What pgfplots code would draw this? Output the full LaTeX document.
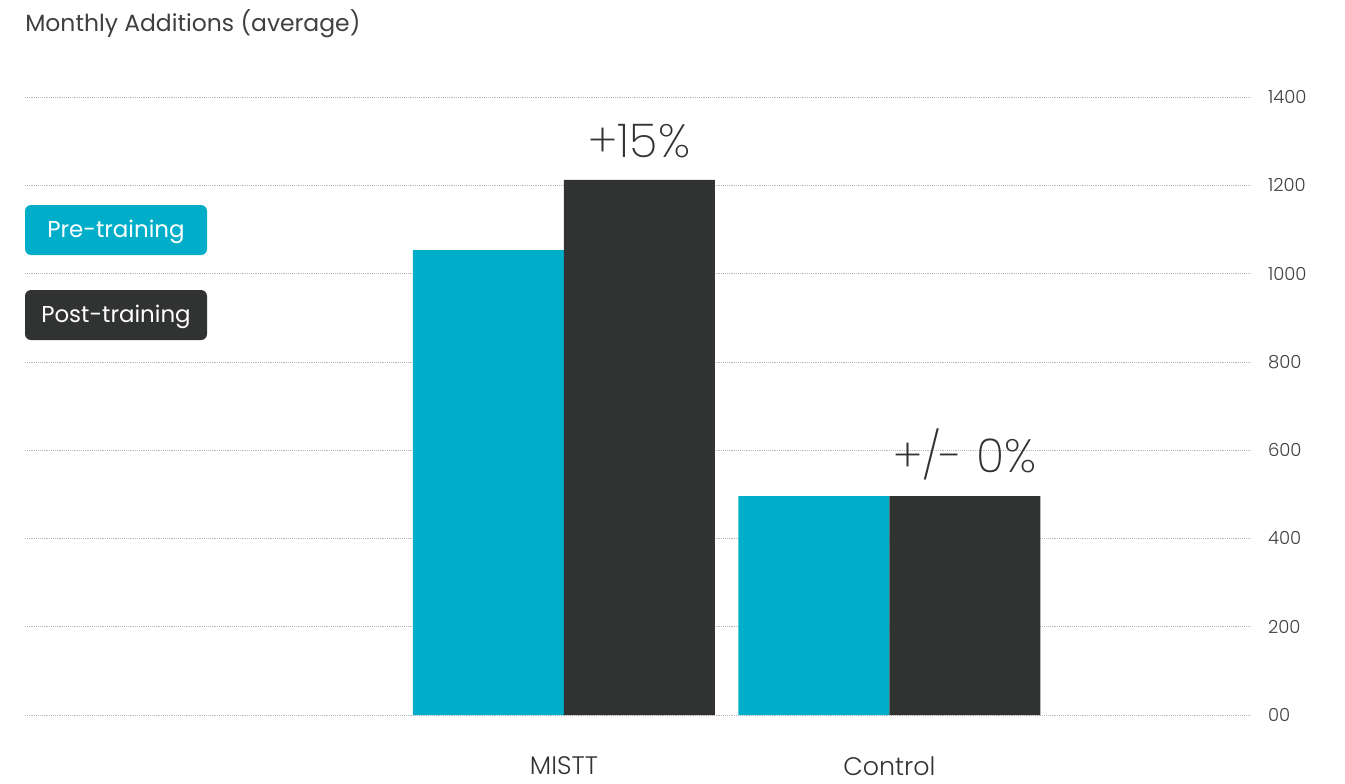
\documentclass[border=0pt]{standalone}
\usepackage{fontspec}
\setmainfont{Poppins}
\newfontfamily\thin{Poppins}[UprightFont=* Light]
\newfontfamily\xthin{Poppins}[UprightFont=* ExtraLight]
\usepackage{pgfplots}
\pgfplotsset{compat=1.18}
\definecolor{teal}{HTML}{00AEC9}
\definecolor{dark}{HTML}{313232}
\definecolor{txt}{HTML}{404040}

\begin{document}
\begin{tikzpicture}
\begin{scope}[x=0.75pt,y=-0.75pt]
  \useasboundingbox (0,0) rectangle (1345,783);
  \node[anchor=base west, inner sep=0, text=txt, font=\fontsize{17.6}{20}\selectfont] at (25,31) {Monthly Additions (average)};
  \fill[teal, rounded corners=4.5pt] (25,205) rectangle (207,255);
  \node[white, font=\fontsize{17.2}{20}\selectfont] at (116,232) {Pre-training};
  \fill[dark, rounded corners=4.5pt] (25,290) rectangle (207,340);
  \node[white, font=\fontsize{17.2}{20}\selectfont] at (116,317) {Post-training};
\end{scope}

\begin{axis}[
  at={(18.75pt,-536.25pt)}, anchor=south west,
  scale only axis, width=918.75pt, height=463.5pt,
  xmin=-1.656, xmax=2.108, ymin=0, ymax=1400,
  axis line style={draw=none},
  major tick length=0pt,
  xtick={0,1}, xticklabels={MISTT,Control},
  xticklabel style={font=\thin\fontsize{19}{22}\selectfont, text=dark, yshift=-27.5pt},
  ytick={0,200,...,1400},
  yticklabels={00,200,400,600,800,1000,1200,1400},
  yticklabel pos=right,
  yticklabel style={font=\thin\fontsize{13.5}{16}\selectfont, text=txt, anchor=west, xshift=10pt},
  ymajorgrids,
  major grid style={densely dotted, gray!55, line width=0.5pt},
  clip=false,
]
\addplot[ybar, bar width=0.464, bar shift=-0.232, fill=teal, draw=none] coordinates {(0,1053) (1,496)};
\addplot[ybar, bar width=0.464, bar shift=0.232, fill=dark, draw=none] coordinates {(0,1212) (1,496)};
\node[anchor=base, inner sep=0, text=dark, font=\xthin\fontsize{35}{38}\selectfont, yshift=16.5pt] at (axis cs:0.232,1212) {+15\%};
\node[anchor=base, inner sep=0, text=dark, font=\xthin\fontsize{35}{38}\selectfont, yshift=18pt] at (axis cs:1.232,496) {+/- 0\%};
\end{axis}
\end{tikzpicture}
\end{document}
